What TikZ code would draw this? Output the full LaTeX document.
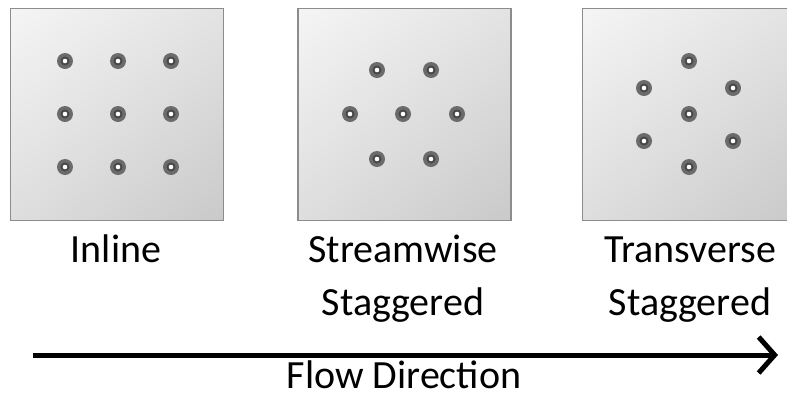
\documentclass[tikz,border=0pt]{standalone}
\usepackage{fontspec}
\setmainfont{Carlito}
\usetikzlibrary{arrows.meta,shadings}

\begin{document}
\begin{tikzpicture}[x=1pt,y=-1pt]
\tikzstyle{plate}=[rectangle,draw=black!45,line width=1.5pt,minimum width=213pt,minimum height=212pt,inner sep=0pt,
  upper left=gray!8,upper right=gray!22,lower left=gray!26,lower right=gray!42]
\tikzstyle{hole}=[circle,fill=black!58,minimum size=16pt,inner sep=0pt,
  path picture={\fill[black!72] (path picture bounding box.center) circle (4.5pt);
                \fill[white] (path picture bounding box.center) circle (2.3pt);}]
\tikzstyle{bigtext}=[font=\fontsize{40}{53}\selectfont,inner sep=0pt]
\tikzstyle{label}=[bigtext,align=center,anchor=north]

\useasboundingbox (0,0) rectangle (787,400);
\clip (0,0) rectangle (787,400);

% plates
\node[plate] (p1) at (117,114.5) {} ;
\node[plate] (p2) at (404.5,114.5) {} ;
\node[plate] (p3) at (689,114.5) {} ;

% inline
\node[hole] (a1) at (65,61) {} ;
\node[hole] (a2) at (118,61) {} ;
\node[hole] (a3) at (171,61) {} ;
\node[hole] (a4) at (65,114) {} ;
\node[hole] (a5) at (118,114) {} ;
\node[hole] (a6) at (171,114) {} ;
\node[hole] (a7) at (65,167) {} ;
\node[hole] (a8) at (118,167) {} ;
\node[hole] (a9) at (171,167) {} ;

% streamwise staggered
\node[hole] (b1) at (377,70) {} ;
\node[hole] (b2) at (431,70) {} ;
\node[hole] (b3) at (350,114) {} ;
\node[hole] (b4) at (403,114) {} ;
\node[hole] (b5) at (457,114) {} ;
\node[hole] (b6) at (377,159) {} ;
\node[hole] (b7) at (431,159) {} ;

% transverse staggered
\node[hole] (c1) at (689,61) {} ;
\node[hole] (c2) at (644,88) {} ;
\node[hole] (c3) at (733,88) {} ;
\node[hole] (c4) at (689,114) {} ;
\node[hole] (c5) at (644,141) {} ;
\node[hole] (c6) at (733,141) {} ;
\node[hole] (c7) at (689,167) {} ;

% names (first baseline at 262)
\node[label] (t1) at (116,225) {\strut Inline} ;
\node[label] (t2) at (403,225) {\strut Streamwise\\Staggered} ;
\node[label] (t3) at (690,225) {\strut Transverse\\Staggered} ;

% flow
\coordinate (f1) at (33,355) ;
\coordinate (f2) at (778,355) ;
\draw[line width=5pt,-{Straight Barb[length=16pt,width=36pt]}] (f1) -- (f2) ;
\node[bigtext,anchor=base] (fd) at (404,388) {Flow Direction} ;

\end{tikzpicture}
\end{document}
